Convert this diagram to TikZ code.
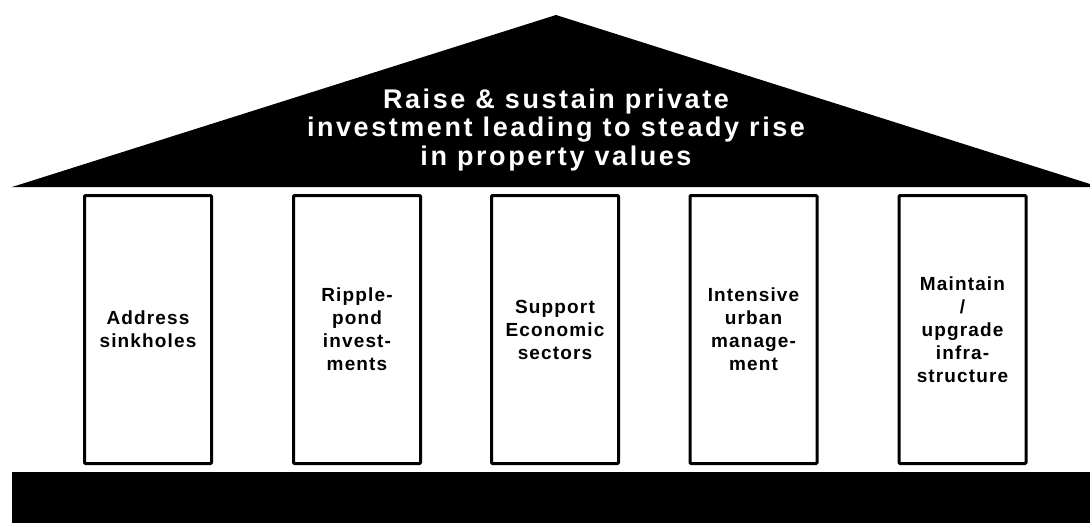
\documentclass[tikz,border=0pt]{standalone}
\usepackage{fontspec}
\usepackage{tikz}
\newfontfamily\roofont{Liberation Sans}[LetterSpace=9.5]
\newfontfamily\pillarfont{Liberation Sans}[LetterSpace=6]

\begin{document}
\begin{tikzpicture}[
        x=1pt, y=-1pt,
        pillar/.style={draw, line width=3pt, rounded corners=1pt, minimum width=127pt, minimum height=268pt, inner sep=0pt, align=center, font=\pillarfont\bfseries\fontsize{19}{23}\selectfont},
        goal/.style={text=white, align=center, inner sep=0pt, font=\roofont\bfseries\fontsize{27}{28.5}\selectfont}
    ]
        \useasboundingbox (0,0) rectangle (1090,523);

        % Roof
        \fill (12,187) -- (556,15) -- (1090,184) -- (1090,187) -- cycle;
        \node[goal] (aim) at (556,130) {Raise \& sustain private\\investment leading to steady rise\\in property values};

        % Pillars
        \node[pillar] (sinkholes) at (148,329.5) {Address\\sinkholes};
        \node[pillar] (ripple) at (357,329.5) {Ripple-\\pond\\invest-\\ments};
        \node[pillar] (sectors) at (555,329.5) {Support\\Economic\\sectors};
        \node[pillar] (urban) at (753.5,329.5) {Intensive\\urban\\manage-\\ment};
        \node[pillar] (infra) at (962.5,329.5) {Maintain\\/\\upgrade\\infra-\\structure};

        % Foundation
        \fill (12,472) rectangle (1090,523);
\end{tikzpicture}
\end{document}
